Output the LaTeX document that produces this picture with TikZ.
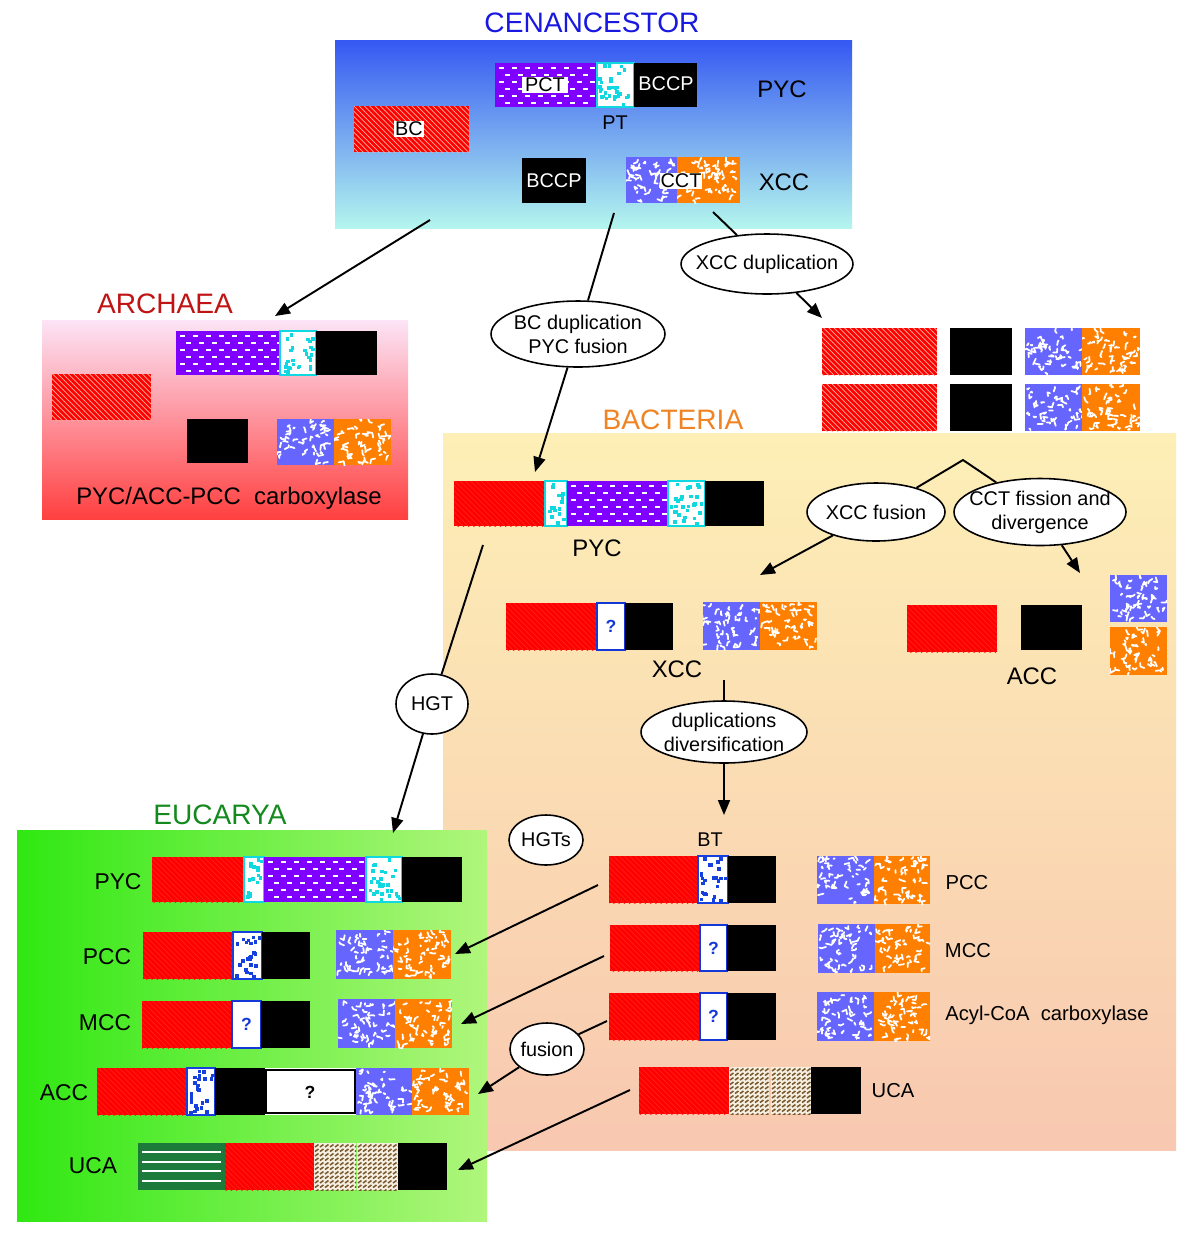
\documentclass[tikz,border=0pt]{standalone}
\usepackage{fontspec}
\setmainfont{Liberation Sans}
\usetikzlibrary{shapes.geometric,patterns,arrows.meta}
\definecolor{cenTop}{HTML}{3558F2}
\definecolor{cenBot}{HTML}{B4F6EE}
\definecolor{cenBlue}{HTML}{1818E0}
\definecolor{arcTop}{HTML}{FCE4F6}
\definecolor{arcBot}{HTML}{FF4040}
\definecolor{arcRed}{HTML}{C01414}
\definecolor{bacTop}{HTML}{FDEFB6}
\definecolor{bacBot}{HTML}{F8C8B0}
\definecolor{bacOr}{HTML}{F08424}
\definecolor{eucL}{HTML}{30E812}
\definecolor{eucR}{HTML}{B0F67C}
\definecolor{eucG}{HTML}{148A1E}
\definecolor{bcred}{HTML}{FF0000}
\definecolor{hatchA}{HTML}{FFB0A0}
\definecolor{hatchB}{HTML}{FF2018}
\definecolor{pctpurple}{HTML}{8000FF}
\definecolor{ptcyan}{HTML}{10D8E0}
\definecolor{btblue}{HTML}{1440E0}
\definecolor{cctblue}{HTML}{6666FF}
\definecolor{cctorange}{HTML}{FF8000}
\definecolor{ucabg}{HTML}{F6F0E2}
\definecolor{ucabrown}{HTML}{7A5A30}
\definecolor{gdark}{HTML}{1C7A3A}
\definecolor{qblue}{HTML}{1438D8}

% red BC domain
\newcommand{\gBC}[5]{%
  \fill[bcred] (#1,#2) rectangle (#3,#4);
  \fill[pattern=north west lines, pattern color=#5] (#1,#2) rectangle (#3,#4);
}
% purple PCT domain with white dashes
\newcommand{\gPCT}[4]{%
  \fill[pctpurple] (#1,#2) rectangle (#3,#4);
  \begin{scope}
    \clip (#1,#2) rectangle (#3,#4);
    \foreach \r in {0,...,7}{\foreach \c in {0,...,10}{%
      \pgfmathsetmacro{\gxx}{#1+4+\c*13+mod(\r,2)*6}
      \fill[white] (\gxx,{#2+4+\r*7}) rectangle ++(5,2.4);}}
  \end{scope}
}
% speckled domain (PT, BT)
\newcommand{\gSpeck}[5]{%
  \fill[white] (#1,#2) rectangle (#3,#4);
  \begin{scope}
    \clip (#1,#2) rectangle (#3,#4);
    \pgfmathtruncatemacro{\gN}{(#3-#1)*(#4-#2)/55}
    \foreach \i in {1,...,\gN}{%
      \fill[#5] ({#1+1+rnd*(#3-#1-5)},{#2+1+rnd*(#4-#2-5)}) rectangle ++(3.6,3.6);}
  \end{scope}
  \draw[#5, line width=0.7pt] (#1,#2) rectangle (#3,#4);
}
% cracked domain (CCT halves)
\newcommand{\gCrack}[5]{%
  \fill[#5] (#1,#2) rectangle (#3,#4);
  \begin{scope}
    \clip (#1,#2) rectangle (#3,#4);
    \pgfmathtruncatemacro{\gN}{(#3-#1)*(#4-#2)/60}
    \foreach \i in {1,...,\gN}{%
      \draw[white, line width=1pt, line join=round, line cap=round]
        ({#1+2+rnd*(#3-#1-4)},{#2+2+rnd*(#4-#2-4)}) -- ++({rnd*10-5},{rnd*4-2}) -- ++({rnd*4-2},{rnd*10-5});}
  \end{scope}
}
% UCA domain
\newcommand{\gUCA}[4]{%
  \fill[ucabg] (#1,#2) rectangle (#3,#4);
  \begin{scope}
    \clip (#1,#2) rectangle (#3,#4);
    \foreach \r in {0,...,11}{\foreach \c in {0,...,9}{%
      \draw[ucabrown, line width=0.9pt] ({#1+1+\c*5},{#2+4+\r*4.5}) -- ++(3.5,-2.5);}}
  \end{scope}
}
% question-mark domain
\newcommand{\gQ}[5]{%
  \fill[white] (#1,#2) rectangle (#3,#4);
  \draw[qblue, line width=0.9pt] (#1,#2) rectangle (#3,#4);
  \node[qmark] (#5) at ({(#1+#3)/2},{(#2+#4)/2}) {?};
}
% dark green domain
\newcommand{\gGreen}[4]{%
  \fill[gdark] (#1,#2) rectangle (#3,#4);
  \foreach \k in {1,...,4}{%
    \draw[white, line width=1.2pt] ({#1+4},{#2+\k*(#4-#2)/5}) -- ({#3-4},{#2+\k*(#4-#2)/5});}
}
\newcommand{\gBlk}[4]{\fill[black] (#1,#2) rectangle (#3,#4);}

\begin{document}
\begin{tikzpicture}[x=0.02cm,y=-0.02cm,
  title/.style={font=\fontsize{16}{19}\selectfont, inner sep=0pt},
  lbl/.style={font=\fontsize{11.3}{13}\selectfont, inner sep=0.6pt},
  mid/.style={font=\fontsize{13.6}{16}\selectfont, inner sep=0pt},
  sm/.style={font=\fontsize{11.5}{14}\selectfont, inner sep=0pt},
  eul/.style={font=\fontsize{13}{15}\selectfont, inner sep=0pt},
  qmark/.style={font=\fontsize{10}{12}\selectfont\bfseries, text=qblue, inner sep=0pt},
  ell/.style={ellipse, draw, fill=white, line width=0.9pt, inner xsep=-0.5cm, inner ysep=-0.2cm,
              align=center, font=\fontsize{11.3}{13.6}\selectfont},
  ln/.style={line width=1.1pt},
  arr/.style={line width=1.1pt, -{Triangle[length=3mm,width=2.4mm]}}]
\pgfmathsetseed{4242}
\useasboundingbox (0,0) rectangle (1200,1249);
\fill[white] (0,0) rectangle (1200,1249);

% ---------------- CENANCESTOR ----------------
\shade[top color=cenTop, bottom color=cenBot] (335,40) rectangle (852,228);
\node[title, text=cenBlue] (tcen) at (592,23) {CENANCESTOR};
\gBC{354}{106}{469}{152}{hatchA}
\node[lbl, fill=white] (lbc) at (409,129) {BC};
\gPCT{495}{63}{597}{107}
\node[lbl, fill=white, inner xsep=2pt] (lpct) at (545,85) {PCT};
\gSpeck{597}{63}{634}{107}{ptcyan}
\gBlk{634}{63}{697}{107}
\node[lbl, text=white] (lbccp1) at (666,84) {BCCP};
\node[lbl] (lpt) at (615,123) {PT};
\node[mid] (lpyc0) at (782,89) {PYC};
\gBlk{522}{158}{586}{203}
\node[lbl, text=white] (lbccp2) at (554,181) {BCCP};
\gCrack{626}{157}{677}{203}{cctblue}
\gCrack{677}{157}{740}{203}{cctorange}
\node[lbl, fill=white] (lcct) at (681,181) {CCT};
\node[mid] (lxcc0) at (784,182) {XCC};

% ---------------- ARCHAEA ----------------
\shade[top color=arcTop, bottom color=arcBot] (42,320) rectangle (408,519);
\node[title, text=arcRed] (tarc) at (165,304) {ARCHAEA};
\gPCT{176}{331}{280}{375}
\gSpeck{280}{331}{316}{375}{ptcyan}
\gBlk{316}{331}{377}{375}
\gBC{52}{374}{151}{420}{hatchA}
\gBlk{187}{419}{248}{463}
\gCrack{277}{419}{334}{465}{cctblue}
\gCrack{334}{419}{391}{465}{cctorange}
\node[mid] (larc) at (229,498) {PYC/ACC-PCC\ \ carboxylase};

% ---------------- duplicated set ----------------
\gBC{822}{328}{937}{375}{hatchA}
\gBlk{950}{328}{1012}{375}
\gCrack{1025}{328}{1082}{375}{cctblue}
\gCrack{1082}{328}{1140}{375}{cctorange}
\gBC{822}{384}{937}{431}{hatchA}
\gBlk{950}{384}{1012}{431}
\gCrack{1025}{384}{1082}{431}{cctblue}
\gCrack{1082}{384}{1140}{431}{cctorange}

% ---------------- BACTERIA ----------------
\shade[top color=bacTop, bottom color=bacBot] (443,433) rectangle (1176,1150);
\node[title, text=bacOr] (tbac) at (673,420) {BACTERIA};
\gBC{454}{481}{545}{526}{hatchB}
\gSpeck{545}{481}{567}{526}{ptcyan}
\gPCT{567}{481}{668}{526}
\gSpeck{668}{481}{705}{526}{ptcyan}
\gBlk{705}{481}{764}{526}
\node[mid] (lpyc1) at (597,548) {PYC};

\gBC{506}{603}{597}{650}{hatchB}
\gQ{597}{603}{625}{650}{qa}
\gBlk{625}{603}{673}{650}
\gCrack{703}{602}{760}{650}{cctblue}
\gCrack{760}{602}{817}{650}{cctorange}
\node[mid] (lxcc1) at (677,669) {XCC};

\gBC{907}{605}{997}{652}{hatchB}
\gBlk{1021}{605}{1082}{650}
\gCrack{1110}{575}{1167}{622}{cctblue}
\gCrack{1110}{627}{1167}{675}{cctorange}
\node[mid] (lacc1) at (1032,676) {ACC};

\node[lbl] (lbt) at (710,840) {BT};
\gBC{609}{856}{698}{903}{hatchB}
\gSpeck{698}{856}{728}{903}{btblue}
\gBlk{728}{856}{776}{903}
\gCrack{817}{856}{874}{904}{cctblue}
\gCrack{874}{856}{930}{904}{cctorange}
\node[sm] (lpcc1) at (967,883) {PCC};

\gBC{610}{925}{700}{971}{hatchB}
\gQ{700}{925}{727}{971}{qb}
\gBlk{727}{925}{776}{971}
\gCrack{818}{924}{875}{973}{cctblue}
\gCrack{875}{924}{930}{973}{cctorange}
\node[sm] (lmcc1) at (968,951) {MCC};

\gBC{609}{993}{700}{1040}{hatchB}
\gQ{700}{993}{727}{1040}{qc}
\gBlk{727}{993}{776}{1040}
\gCrack{817}{992}{874}{1041}{cctblue}
\gCrack{874}{992}{930}{1041}{cctorange}
\node[sm, anchor=west] (lacyl) at (945,1015) {Acyl-CoA\ \ carboxylase};

\gBC{639}{1067}{729}{1114}{hatchB}
\gUCA{729}{1067}{769}{1114}
\gUCA{771}{1067}{811}{1114}
\gBlk{811}{1067}{861}{1114}
\node[sm] (luca1) at (893,1091) {UCA};

% ---------------- EUCARYA ----------------
\shade[left color=eucL, right color=eucR] (17,830) rectangle (487,1221);
\node[title, text=eucG] (teuc) at (220,815) {EUCARYA};
\node[eul] (lpyc2) at (118,882) {PYC};
\gBC{152}{857}{244}{902}{hatchB}
\gSpeck{244}{857}{264}{902}{ptcyan}
\gPCT{264}{857}{366}{902}
\gSpeck{366}{857}{402}{902}{ptcyan}
\gBlk{402}{857}{462}{902}

\node[eul] (lpcc2) at (107,957) {PCC};
\gBC{143}{932}{233}{979}{hatchB}
\gSpeck{233}{932}{262}{979}{btblue}
\gBlk{262}{932}{310}{979}
\gCrack{336}{930}{393}{979}{cctblue}
\gCrack{393}{930}{451}{979}{cctorange}

\node[eul] (lmcc2) at (105,1023) {MCC};
\gBC{142}{1001}{232}{1048}{hatchB}
\gQ{232}{1001}{261}{1048}{qd}
\gBlk{261}{1001}{310}{1048}
\gCrack{338}{999}{395}{1048}{cctblue}
\gCrack{395}{999}{452}{1048}{cctorange}

\node[eul] (lacc2) at (64,1093) {ACC};
\gBC{97}{1068}{187}{1115}{hatchB}
\gSpeck{187}{1068}{215}{1115}{btblue}
\gBlk{215}{1068}{265}{1115}
\fill[white] (265,1068) rectangle (356,1115);
\draw[black, line width=1.6pt] (266,1070) rectangle (355,1113);
\node[qmark, text=black] (qe) at (310,1092) {?};
\gCrack{356}{1068}{412}{1115}{cctblue}
\gCrack{412}{1068}{469}{1115}{cctorange}

\node[eul] (luca2) at (93,1166) {UCA};
\gGreen{138}{1143}{225}{1190}
\gBC{225}{1143}{314}{1190}{hatchB}
\gUCA{314}{1143}{356}{1190}
\gUCA{357}{1143}{398}{1190}
\gBlk{398}{1143}{447}{1190}

% ---------------- ellipses ----------------
\node[ell, minimum width=3.44cm, minimum height=1.2cm] (exd) at (767,264) {XCC duplication};
\node[ell, minimum width=3.48cm, minimum height=1.32cm] (ebc) at (578,334) {BC duplication\\PYC fusion};
\node[ell, minimum width=1.44cm, minimum height=1.2cm] (ehgt) at (432,704) {HGT};
\node[ell, minimum width=2.76cm, minimum height=1.16cm] (exf) at (876,512) {XCC fusion};
\node[ell, minimum width=3.44cm, minimum height=1.34cm] (ecct) at (1040,512) {CCT fission and\\divergence};
\node[ell, minimum width=3.32cm, minimum height=1.24cm] (edd) at (724,732) {duplications\\diversification};
\node[ell, minimum width=1.48cm, minimum height=1.0cm] (ehgts) at (546,840) {HGTs};
\node[ell, minimum width=1.48cm, minimum height=1.04cm] (efus) at (547,1049) {fusion};

% ---------------- connectors ----------------
\coordinate (c1) at (430,220); \coordinate (t1) at (275,316);
\draw[arr] (c1) -- (t1);
\coordinate (c2) at (614,213); \coordinate (t2) at (535,472);
\draw[ln] (c2) -- (ebc); \draw[arr] (ebc) -- (t2);
\coordinate (c3) at (713,212); \coordinate (t3) at (822,318);
\draw[ln] (c3) -- (exd); \draw[arr] (exd) -- (t3);
\coordinate (c4) at (483,545); \coordinate (t4) at (393,833);
\draw[ln] (c4) -- (ehgt); \draw[arr] (ehgt) -- (t4);
\coordinate (apex) at (963,460); \coordinate (t5) at (760,575); \coordinate (t6) at (1080,573);
\draw[ln] (exf) -- (apex) -- (ecct);
\draw[arr] (exf) -- (t5); \draw[arr] (ecct) -- (t6);
\coordinate (c7) at (724,680); \coordinate (t7) at (724,815);
\draw[ln] (c7) -- (edd); \draw[arr] (edd) -- (t7);
\coordinate (c8) at (598,885); \coordinate (t8) at (455,954);
\draw[arr] (c8) -- (t8);
\coordinate (c9) at (604,956); \coordinate (t9) at (461,1024);
\draw[arr] (c9) -- (t9);
\coordinate (c10) at (607,1021); \coordinate (t10) at (478,1094);
\draw[ln] (c10) -- (efus); \draw[arr] (efus) -- (t10);
\coordinate (c11) at (630,1090); \coordinate (t11) at (458,1170);
\draw[arr] (c11) -- (t11);
\end{tikzpicture}
\end{document}
